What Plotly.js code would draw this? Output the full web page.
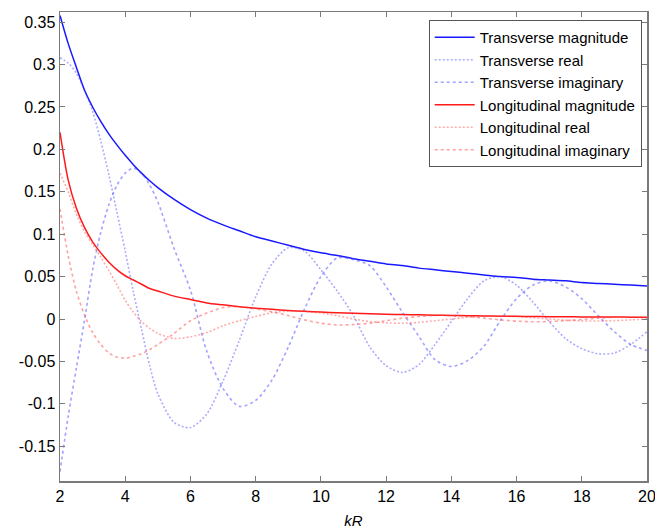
<!DOCTYPE html>
<html>
<head>
<meta charset="utf-8">
<script src="https://cdn.plot.ly/plotly-3.0.1.min.js"></script>
<style>html,body{margin:0;padding:0;background:#fff;}#chart{width:655px;height:531px;}</style>
</head>
<body>
<div id="chart"></div>
<script>
// kR sample positions
var kR = [2, 2.25, 2.5, 2.75, 3, 3.25, 3.5, 3.75, 4, 4.25, 4.5, 4.75, 5,
  5.5, 6, 6.5, 7, 7.5, 8, 8.5, 9, 9.5, 10, 10.5, 11, 11.5, 12, 12.5, 13, 13.5,
  14, 14.5, 15, 15.5, 16, 16.5, 17, 17.5, 18, 18.5, 19, 19.5, 20];

var transverseMagnitude = [0.358, 0.325, 0.297, 0.270, 0.250, 0.233, 0.218, 0.205, 0.193, 0.182, 0.172, 0.163, 0.155,
  0.141, 0.129, 0.119, 0.111, 0.104, 0.097, 0.092, 0.087, 0.082, 0.078, 0.075, 0.071, 0.068, 0.065, 0.063, 0.060, 0.058,
  0.056, 0.054, 0.052, 0.050, 0.049, 0.047, 0.046, 0.045, 0.043, 0.042, 0.041, 0.040, 0.039];

var transverseReal = [0.308, 0.302, 0.290, 0.270, 0.245, 0.210, 0.170, 0.125, 0.080, 0.032, -0.012, -0.055, -0.088,
  -0.122, -0.128, -0.112, -0.073, -0.025, 0.026, 0.065, 0.084, 0.080, 0.058, 0.033, 0.004, -0.033, -0.055, -0.063, -0.054, -0.030,
  -0.003, 0.024, 0.045, 0.050, 0.040, 0.020, -0.003, -0.023, -0.035, -0.041, -0.040, -0.030, -0.015];

var transverseImag = [-0.180, -0.115, -0.058, -0.002, 0.058, 0.102, 0.135, 0.158, 0.172, 0.178, 0.172, 0.158, 0.138,
  0.083, 0.034, -0.038, -0.082, -0.103, -0.096, -0.072, -0.033, 0.012, 0.050, 0.072, 0.070, 0.063, 0.038, 0.008, -0.020, -0.048,
  -0.056, -0.049, -0.032, -0.002, 0.024, 0.040, 0.045, 0.038, 0.024, 0.004, -0.015, -0.030, -0.037];

var longitudinalMagnitude = [0.220, 0.164, 0.131, 0.108, 0.091, 0.078, 0.067, 0.058, 0.051, 0.046, 0.041, 0.036, 0.033,
  0.027, 0.023, 0.019, 0.0167, 0.0146, 0.0128, 0.0114, 0.0101, 0.0091, 0.0082, 0.0074, 0.0068, 0.0062, 0.0057, 0.0052, 0.0049, 0.0045,
  0.0042, 0.0039, 0.0036, 0.0034, 0.0032, 0.0030, 0.0028, 0.0027, 0.0025, 0.0024, 0.0023, 0.0022, 0.0021];

var longitudinalReal = [0.172, 0.150, 0.124, 0.103, 0.088, 0.073, 0.057, 0.040, 0.022, 0.008, -0.003, -0.011, -0.017,
  -0.023, -0.021, -0.016, -0.008, -0.002, 0.003, 0.0075, 0.0092, 0.0088, 0.007, 0.004, 0.000, -0.003, -0.0045, -0.005, -0.004, -0.002,
  0.000, 0.002, 0.0033, 0.0034, 0.0028, 0.0016, 0.000, -0.0013, -0.0022, -0.0024, -0.0019, -0.0010, 0.000];

var longitudinalImag = [0.130, 0.075, 0.033, 0.005, -0.016, -0.030, -0.040, -0.045, -0.046, -0.044, -0.041, -0.036, -0.030,
  -0.017, -0.002, 0.007, 0.0135, 0.0145, 0.012, 0.0085, 0.004, -0.001, -0.005, -0.007, -0.0065, -0.005, -0.002, 0.001, 0.003, 0.0043,
  0.0042, 0.003, 0.001, -0.001, -0.0025, -0.0032, -0.003, -0.002, -0.0005, 0.001, 0.002, 0.0023, 0.0018];

var seriesNames = ['Transverse magnitude', 'Transverse real', 'Transverse imaginary',
  'Longitudinal magnitude', 'Longitudinal real', 'Longitudinal imaginary'];

var xTickVals = [2, 4, 6, 8, 10, 12, 14, 16, 18, 20];
var xTickText = ['2', '4', '6', '8', '10', '12', '14', '16', '18', '20'];
var yTickVals = [-0.15, -0.1, -0.05, 0, 0.05, 0.1, 0.15, 0.2, 0.25, 0.3, 0.35];
var yTickText = ['-0.15', '-0.1', '-0.05', '0', '0.05', '0.1', '0.15', '0.2', '0.25', '0.3', '0.35'];
var xAxisLabel = '<i>kR</i>';

var FONT = 'Arial, "Liberation Sans", sans-serif';

function tr(y, name, color, dash, width) {
  return {
    x: kR, y: y, name: name, type: 'scatter', mode: 'lines',
    line: {color: color, dash: dash, width: width, shape: 'spline', smoothing: 0.8}
  };
}

var data = [
  tr(transverseMagnitude, seriesNames[0], 'rgb(25,25,255)', 'solid', 1.5),
  tr(transverseReal, seriesNames[1], 'rgba(70,70,255,0.45)', '2px,2px', 1.6),
  tr(transverseImag, seriesNames[2], 'rgba(70,70,255,0.5)', '3px,3px', 1.6),
  tr(longitudinalMagnitude, seriesNames[3], 'rgb(255,25,25)', 'solid', 1.5),
  tr(longitudinalReal, seriesNames[4], 'rgba(255,70,70,0.45)', '2px,2px', 1.6),
  tr(longitudinalImag, seriesNames[5], 'rgba(255,70,70,0.5)', '3px,3px', 1.6)
];

var axisCommon = {
  showgrid: false, zeroline: false, showline: true, linecolor: '#7a7a7a', linewidth: 1.5,
  mirror: 'ticks', ticks: 'inside', ticklen: 5, tickwidth: 1, tickcolor: '#7a7a7a',
  tickfont: {family: FONT, size: 16, color: '#000'}, tickmode: 'array',
  ticklabeloverflow: 'allow'
};

var layout = {
  width: 655, height: 531,
  margin: {l: 60, r: 8, t: 12, b: 50},
  paper_bgcolor: '#fff', plot_bgcolor: '#fff',
  font: {family: FONT, size: 16, color: '#000'},
  xaxis: Object.assign({}, axisCommon, {
    range: [2, 20], tickvals: xTickVals, ticktext: xTickText,
    title: {text: xAxisLabel, font: {family: FONT, size: 15, color: '#000'}, standoff: 12}
  }),
  yaxis: Object.assign({}, axisCommon, {
    range: [-0.191, 0.362], tickvals: yTickVals, ticktext: yTickText
  }),
  showlegend: true,
  legend: {
    x: 0.991, y: 0.983, xanchor: 'right', yanchor: 'top',
    bgcolor: '#fff', bordercolor: '#555', borderwidth: 1, itemwidth: 40,
    font: {family: FONT, size: 15, color: '#000'}, tracegroupgap: 0
  }
};

Plotly.newPlot('chart', data, layout, {displayModeBar: false, staticPlot: true});
</script>
</body>
</html>
